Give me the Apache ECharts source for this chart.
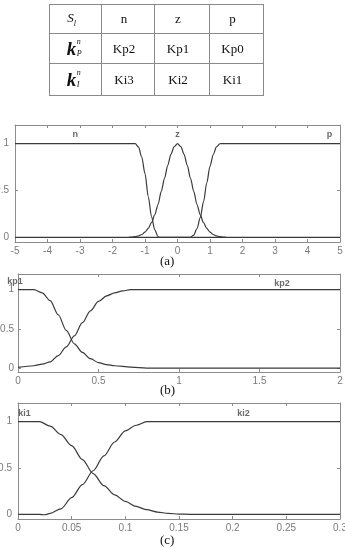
<!DOCTYPE html>
<html>
<head>
<meta charset="utf-8">
<script src="https://cdn.jsdelivr.net/npm/echarts@6/dist/echarts.min.js"></script>
<style>
  html, body { margin:0; padding:0; background:#fff; }
  #chart { position:absolute; left:0; top:0; width:345px; height:548px; }
  #tbl { position:absolute; left:49px; top:4px; border-collapse:collapse; font-family:'Liberation Serif','DejaVu Serif',serif; font-size:13px; color:#111; z-index:2; }
  #tbl td { border:1.5px solid #8a8a8a; padding:0 8px 0 0; text-align:center; }
  .kk { font-style:italic; font-weight:bold; font-size:19px; position:relative; display:inline-block; }
  .kk sup, .kk sub { font-size:8px; font-weight:normal; position:absolute; left:10px; }
  .kk sup { top:-1px; }
  .kk sub { top:11px; }
</style>
</head>
<body>
<div id="chart"></div>
<table id="tbl"></table>
<script>
// ---- table contents ----
var tableHeader = ['n', 'z', 'p'];
var tableKp = ['Kp2', 'Kp1', 'Kp0'];
var tableKi = ['Ki3', 'Ki2', 'Ki1'];

// ---- chart (a) membership curves [x, mu] ----
var nCurve = [[-5,1],[-1.3,1],[-1.2,0.964],[-1.1,0.858],[-1.0,0.68],[-0.9,0.436],[-0.8,0.222],[-0.7,0.08],[-0.6,0.009],[-0.55,0],[5,0]];
var zCurve = [[-1.5,0],[-1.4,0.003],[-1.3,0.008],[-1.2,0.016],[-1.1,0.03],[-1.0,0.056],[-0.9,0.096],[-0.8,0.157],[-0.7,0.24],[-0.6,0.35],[-0.5,0.49],[-0.4,0.63],[-0.3,0.77],[-0.2,0.89],[-0.1,0.97],[0,1],[0.1,0.97],[0.2,0.89],[0.3,0.77],[0.4,0.63],[0.5,0.49],[0.6,0.35],[0.7,0.24],[0.8,0.157],[0.9,0.096],[1.0,0.056],[1.1,0.03],[1.2,0.016],[1.3,0.008],[1.4,0.003],[1.5,0]];
var pCurve = [[-5,0],[0.4,0],[0.5,0.024],[0.6,0.094],[0.7,0.21],[0.8,0.378],[0.9,0.58],[1.0,0.758],[1.1,0.885],[1.2,0.966],[1.3,0.999],[1.33,1],[5,1]];
var labelsA = [['n', -3.15, 1.10], ['z', 0, 1.10], ['p', 4.68, 1.10]];

// ---- chart (b) ----
var kp1Curve = [[0,1],[0.1,1],[0.15,0.96],[0.2,0.86],[0.25,0.68],[0.3,0.48],[0.35,0.31],[0.4,0.2],[0.45,0.12],[0.5,0.07],[0.55,0.045],[0.6,0.03],[0.7,0.012],[0.8,0],[2,0]];
var kp2Curve = [[0,0.01],[0.1,0.03],[0.15,0.05],[0.2,0.08],[0.25,0.16],[0.3,0.27],[0.35,0.41],[0.4,0.58],[0.45,0.73],[0.5,0.85],[0.55,0.92],[0.6,0.96],[0.65,0.985],[0.7,1],[2,1]];
var labelsB = [['kp1', 0, 1.11], ['kp2', 1.64, 1.08]];

// ---- chart (c) ----
var ki1Curve = [[0,1],[0.02,1],[0.03,0.95],[0.04,0.86],[0.05,0.74],[0.06,0.59],[0.07,0.44],[0.08,0.31],[0.09,0.21],[0.1,0.14],[0.11,0.085],[0.12,0.05],[0.13,0.025],[0.14,0.01],[0.15,0.003],[0.16,0],[0.3,0]];
var ki2Curve = [[0,0],[0.02,0],[0.025,-0.004],[0.03,0.01],[0.04,0.06],[0.05,0.18],[0.06,0.32],[0.07,0.47],[0.08,0.63],[0.09,0.78],[0.1,0.9],[0.11,0.96],[0.12,1],[0.3,1]];
var labelsC = [['ki1', 0.006, 1.09], ['ki2', 0.21, 1.09]];

var captions = ['(a)', '(b)', '(c)'];
var yTicks = [0, 0.5, 1];

// build table
(function(){
  var t = document.getElementById('tbl');
  var widths = [51, 52, 54, 53];
  var heights = [28, 29, 31];
  var rows = [
    ['<i>S</i><sub style="font-size:8px;font-style:italic">l</sub>'].concat(tableHeader),
    ['<span class="kk">k<sup>n</sup><sub><i>P</i></sub></span>'].concat(tableKp),
    ['<span class="kk">k<sup>n</sup><sub><i>I</i></sub></span>'].concat(tableKi)
  ];
  rows.forEach(function(r, ri){
    var tr = document.createElement('tr');
    r.forEach(function(c, ci){
      var td = document.createElement('td');
      td.innerHTML = c;
      td.style.width = (widths[ci]-8) + 'px';
      td.style.height = heights[ri] + 'px';
      tr.appendChild(td);
    });
    t.appendChild(tr);
  });
})();

var FONT = "'Liberation Sans', Arial, sans-serif";
var frame = '#8c8c8c';
var lineColor = '#3a3a3a';

var grids = [
  {left: 15, right: 5, top: 125, height: 117, outerBoundsMode: 'none', containLabel: false},
  {left: 18, right: 5, top: 274, height: 98, outerBoundsMode: 'none', containLabel: false},
  {left: 18, right: 5, top: 403, height: 116, outerBoundsMode: 'none', containLabel: false}
];
var xRanges = [[-5, 5, 1], [0, 2, 0.5], [0, 0.3, 0.05]];
var yLabelMargin = [6, 4, 6];

var xAxes = [], yAxes = [];
xRanges.forEach(function(r, i){
  xAxes.push({
    type: 'value', gridIndex: i, min: r[0], max: r[1], interval: r[2], position: 'bottom',
    axisLine: {onZero: false, lineStyle: {color: frame, width: 1}},
    axisTick: {inside: true, length: 3, lineStyle: {color: frame}},
    axisLabel: {color: '#7a7a7a', fontSize: 10, fontFamily: FONT, margin: 4,
      formatter: function(v){ return String(+v.toFixed(2)); }},
    splitLine: {show: false}
  });
  xAxes.push({
    type: 'value', gridIndex: i, min: r[0], max: r[1], interval: r[2], position: 'top',
    axisLine: {show: true, onZero: false, lineStyle: {color: frame, width: 1}},
    axisTick: {inside: true, length: 3, lineStyle: {color: frame}},
    axisLabel: {show: false}, splitLine: {show: false}
  });
  yAxes.push({
    type: 'value', gridIndex: i, min: -0.05, max: 1.2, position: 'left',
    axisLine: {show: true, onZero: false, lineStyle: {color: frame, width: 1}},
    axisTick: {show: true, inside: true, length: 3, customValues: yTicks, lineStyle: {color: frame}},
    axisLabel: {color: '#7a7a7a', fontSize: 10, fontFamily: FONT, margin: yLabelMargin[i], customValues: yTicks},
    splitLine: {show: false}
  });
  yAxes.push({
    type: 'value', gridIndex: i, min: -0.05, max: 1.2, position: 'right',
    axisLine: {show: true, onZero: false, lineStyle: {color: frame, width: 1}},
    axisTick: {show: true, inside: true, length: 3, customValues: yTicks, lineStyle: {color: frame}},
    axisLabel: {show: false}, splitLine: {show: false}
  });
});

function curve(data, gi){
  return {
    type: 'line', data: data, xAxisIndex: gi*2, yAxisIndex: gi*2,
    showSymbol: false, symbol: 'none', smooth: 0.3, smoothMonotone: 'x',
    lineStyle: {color: lineColor, width: 1.2}, silent: true, animation: false
  };
}
function labels(arr, gi, firstOffset){
  return {
    type: 'scatter', xAxisIndex: gi*2, yAxisIndex: gi*2, symbolSize: 0, silent: true, animation: false,
    data: arr.map(function(a, k){
      var d = {value: [a[1], a[2]], name: a[0]};
      if (k === 0 && firstOffset) d.label = {offset: [firstOffset, 0]};
      return d;
    }),
    label: {show: true, position: 'inside', formatter: '{b}', color: '#444', fontSize: 9, fontFamily: FONT, fontWeight: 'bold'}
  };
}

var series = [
  curve(nCurve, 0), curve(zCurve, 0), curve(pCurve, 0), labels(labelsA, 0),
  curve(kp1Curve, 1), curve(kp2Curve, 1), labels(labelsB, 1, -3),
  curve(ki1Curve, 2), curve(ki2Curve, 2), labels(labelsC, 2)
];

var captionY = [263, 392, 542];
var chart = echarts.init(document.getElementById('chart'), null, {renderer: 'canvas'});
chart.setOption({
  animation: false,
  backgroundColor: '#fff',
  grid: grids,
  xAxis: xAxes,
  yAxis: yAxes,
  series: series,
  graphic: captions.map(function(c, i){
    return {type: 'text', left: 160, top: captionY[i] - 8,
      style: {text: c, font: "13px 'Liberation Serif', serif", fill: '#111'}};
  })
});
</script>
</body>
</html>
